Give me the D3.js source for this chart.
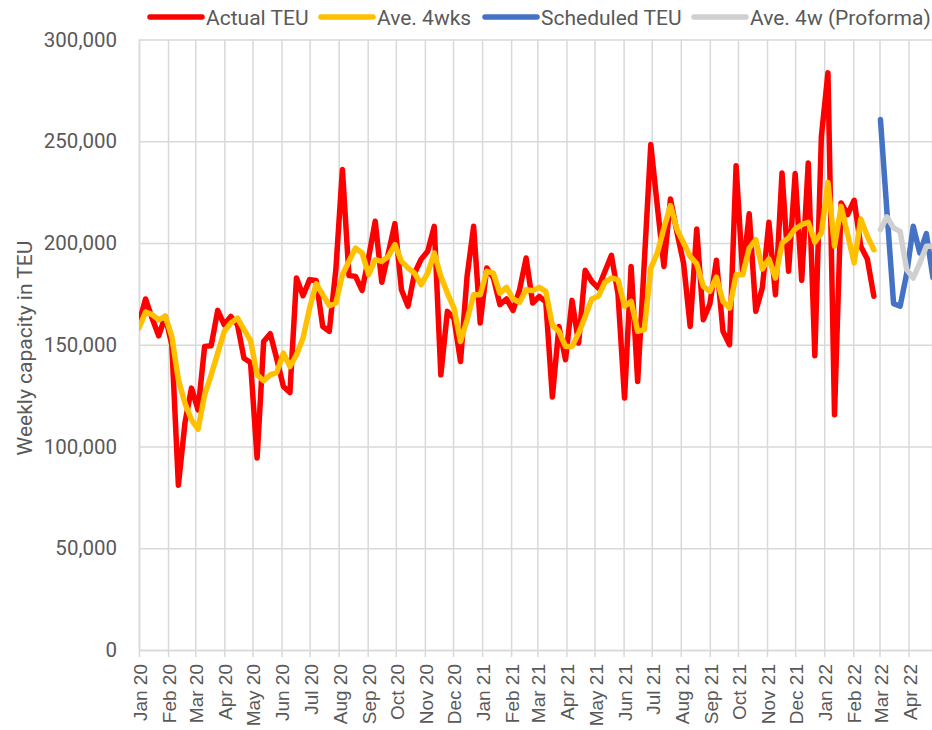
<!DOCTYPE html>
<html>
<head>
<meta charset="utf-8">
<script src="https://cdn.jsdelivr.net/npm/d3@7"></script>
<style>
  html, body { margin: 0; padding: 0; background: #ffffff; }
  svg { display: block; }
</style>
</head>
<body>
<svg id="chart" width="932" height="730"></svg>
<script>
// ---- Data (values in thousand TEU, weekly from first week of Jan 2020) ----
const startDate = new Date(2020, 0, 1);

const actualTEU = [
  160.7, 172.5, 163, 154.4, 164, 150, 81, 111.5, 128.7, 118,
  149.2, 149.5, 166.9, 159.8, 163.9, 160, 143.4, 141.3, 94.3, 151.6,
  155.4, 143, 129.5, 126.5, 182.8, 174.1, 182, 181.6, 159, 156.6,
  186.9, 236.1, 184, 183.6, 176.7, 193, 210.7, 180.7, 195, 209.5,
  177, 168.9, 185.2, 192, 195.9, 208.2, 135.2, 166.4, 163, 141.8,
  183.6, 208.2, 160.7, 187.7, 183, 169.7, 172.5, 166.9, 177, 192.6,
  170.5, 173.8, 171, 124.3, 159, 142.6, 171.8, 150.8, 186.6, 181.1,
  177.9, 186, 193.9, 175, 123.8, 188.5, 132, 190, 248.4, 218,
  188.5, 221.6, 205, 190, 159, 206.9, 162.3, 170, 191.5, 156.6,
  150, 238, 185, 214.4, 166.4, 178, 210.2, 174.6, 234.4, 186.1,
  234.1, 181.6, 239.3, 144.6, 252.5, 283.6, 115.6, 219.7, 214, 221,
  198.4, 192.1, 173.8
];

const ave4wks = [
  158.2, 166.1, 164.8, 162.3, 163.9, 154.1, 132.8, 121.3, 113.1, 108.5,
  125.4, 135.2, 145.9, 156.6, 160.7, 163.1, 157.4, 152.1, 135.2, 132.3,
  135.2, 136.4, 145.9, 139.3, 145.1, 153.3, 168, 180, 174.6, 169.2,
  170.5, 184.4, 191, 197.5, 195.1, 184.4, 191.8, 191, 193.4, 199.2,
  191, 187.7, 185.2, 179.5, 185.2, 195.1, 183.6, 175.4, 168, 151.6,
  162.3, 174.6, 174.6, 186.1, 185.2, 175.4, 178.2, 172.5, 170.9, 177,
  176.6, 178.2, 176.2, 159.5, 156.6, 149.2, 149.2, 155.7, 163.9, 172.5,
  173.8, 180.7, 182.8, 182, 168.9, 171.3, 156.6, 157.4, 187.7, 195.1,
  207.4, 218.4, 206.6, 200, 193.4, 189.8, 178.7, 176.2, 183.2, 171.3,
  168, 184.4, 184.4, 197.5, 201.6, 187.2, 192.1, 182.8, 200, 202.5,
  206.9, 209, 210.2, 200.4, 205, 229.8, 198.4, 218, 204.1, 190.2,
  211.8, 203.3, 196.7
];

// Scheduled series start right after the last actual week
const scheduledStartWeek = 113;
const scheduledTEU = [260.7, 215, 170.2, 168.9, 185, 208.2, 195.1, 204.6, 183];
const ave4wProforma = [206.6, 212.8, 207.4, 205.7, 186.9, 182.8, 190.2, 198.4, 198.4];

const yTicks = [0, 50000, 100000, 150000, 200000, 250000, 300000];

const seriesNames = ["Actual TEU", "Ave. 4wks", "Scheduled TEU", "Ave. 4w (Proforma)"];
const seriesColors = ["#ff0000", "#ffc000", "#4472c4", "#d0d0d0"];

// ---- Build point arrays ----
const weekDate = i => d3.timeDay.offset(startDate, 7 * i);
const toPoints = (arr, offset) => arr.map((v, i) => ({ date: weekDate(offset + i), value: v * 1000 }));
const series = [
  toPoints(actualTEU, 0),
  toPoints(ave4wks, 0),
  toPoints(scheduledTEU, scheduledStartWeek),
  toPoints(ave4wProforma, scheduledStartWeek)
];

// ---- Layout ----
const svg = d3.select("#chart");
const plot = { left: 139, right: 932, top: 39.5, bottom: 650 };

const x = d3.scaleTime()
  .domain([startDate, d3.timeDay.offset(startDate, 846)])
  .range([plot.left, plot.right]);

const y = d3.scaleLinear()
  .domain([0, 300000])
  .range([plot.bottom, plot.top]);

const gridColor = "#d9d9d9";
const textColor = "#595959";

svg.append("defs").append("clipPath").attr("id", "clip")
  .append("rect")
  .attr("x", plot.left).attr("y", 0)
  .attr("width", plot.right - plot.left).attr("height", plot.bottom + 10);

// Horizontal gridlines + y labels
const yAxis = d3.axisLeft(y).tickValues(yTicks)
  .tickSize(-(plot.right - plot.left))
  .tickPadding(22)
  .tickFormat(d3.format(","));
const gy = svg.append("g")
  .attr("transform", `translate(${plot.left},0)`)
  .call(yAxis);
gy.select(".domain").remove();
gy.selectAll(".tick line").attr("stroke", gridColor).attr("stroke-width", 1.5);
gy.selectAll(".tick text")
  .attr("fill", textColor)
  .style("font-family", "Roboto, 'Noto Sans', sans-serif")
  .style("font-size", "20.5px");

// Vertical month gridlines + labels
const months = d3.timeMonth.range(startDate, d3.timeDay.offset(startDate, 847));
const xAxis = d3.axisBottom(x).tickValues(months)
  .tickSize(-(plot.bottom - plot.top))
  .tickFormat(d3.timeFormat("%b %y"));
const gx = svg.append("g")
  .attr("transform", `translate(0,${plot.bottom})`)
  .call(xAxis);
gx.select(".domain").attr("stroke", gridColor).attr("stroke-width", 1.5);
gx.selectAll(".tick line").attr("stroke", gridColor).attr("stroke-width", 1.5)
  .attr("y2", -(plot.bottom - plot.top)).attr("y1", 7);
gx.selectAll(".tick text")
  .attr("fill", textColor)
  .style("font-family", "'Liberation Sans', Arial, sans-serif")
  .style("font-size", "19px")
  .attr("text-anchor", "end")
  .attr("dy", null)
  .attr("dominant-baseline", "central")
  .attr("transform", "translate(1,14) rotate(-90)")
  .attr("x", 0).attr("y", 0);

// Lines
const line = d3.line().x(d => x(d.date)).y(d => y(d.value));
const linesG = svg.append("g").attr("clip-path", "url(#clip)");
series.forEach((s, i) => {
  linesG.append("path")
    .datum(s)
    .attr("fill", "none")
    .attr("stroke", seriesColors[i])
    .attr("stroke-width", 5.5)
    .attr("stroke-linejoin", "round")
    .attr("stroke-linecap", "round")
    .attr("d", line);
});

// Y axis title
svg.append("text")
  .attr("transform", "translate(32,348) rotate(-90)")
  .attr("text-anchor", "middle")
  .attr("fill", textColor)
  .style("font-family", "Roboto, 'Noto Sans', sans-serif")
  .style("font-size", "21px")
  .text("Weekly capacity in TEU");

// Legend
const legendX = [148, 319, 483, 692];
const legend = svg.append("g");
seriesNames.forEach((name, i) => {
  const g = legend.append("g").attr("transform", `translate(${legendX[i]},17)`);
  g.append("line")
    .attr("x1", 2).attr("x2", 54).attr("y1", 0).attr("y2", 0)
    .attr("stroke", seriesColors[i]).attr("stroke-width", 5.5)
    .attr("stroke-linecap", "round");
  g.append("text")
    .attr("x", 58).attr("y", 7.5)
    .attr("fill", textColor)
    .style("font-family", "Roboto, 'Noto Sans', sans-serif")
    .style("font-size", "21px")
    .text(name);
});
</script>
</body>
</html>
